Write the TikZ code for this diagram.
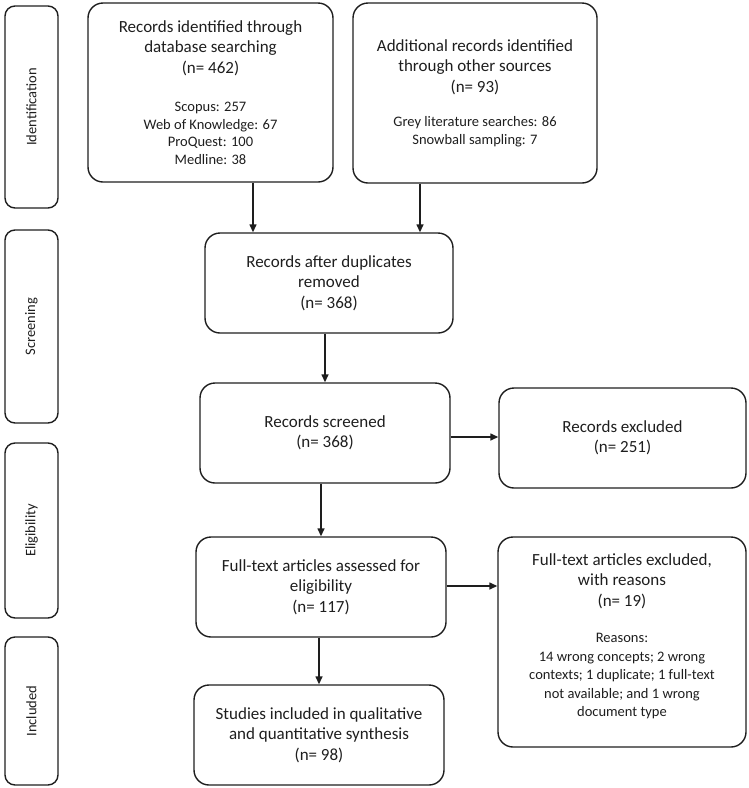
\documentclass[tikz,border=0pt]{standalone}
\usepackage{fontspec}
\setmainfont{Carlito}
\usetikzlibrary{arrows.meta,calc}
\definecolor{ink}{HTML}{1E1E1E}
\newcommand{\smallf}{\fontsize{14.5}{17.5}\selectfont}
\begin{document}
\begin{tikzpicture}[x=1pt,y=-1pt,
  box/.style={draw=ink, line width=1.4pt, rounded corners=15pt, align=center, text=ink,
    font=\fontsize{17}{20.5}\selectfont, inner sep=0pt},
  side/.style={draw=ink, line width=1.4pt, rounded corners=10pt, text=ink,
    inner sep=0pt, minimum width=53pt},
  sidelabel/.style={rotate=90, text=ink, font=\fontsize{14.5}{17}\selectfont},
  arr/.style={draw=ink, line width=1.4pt, -{Triangle[length=8pt,width=7pt]}}]
\useasboundingbox (0,0) rectangle (749,788);
% side boxes
\node[side, minimum height=202pt] (s1) at (31.5,107) {};
\node[sidelabel] at (s1.center) {Identification};
\node[side, minimum height=193pt] (s2) at (31.5,326.5) {};
\node[sidelabel] at (s2.center) {Screening};
\node[side, minimum height=175pt] (s3) at (31.5,530.5) {};
\node[sidelabel] at (s3.center) {Eligibility};
\node[side, minimum height=148pt] (s4) at (31.5,711) {};
\node[sidelabel] at (s4.center) {Included};
% main boxes
\node[box, minimum width=245pt, minimum height=179pt] (b1) at (210.5,92.5)
 {Records identified through\\ database searching\\ (n= 462)\\[18pt]
  {\smallf Scopus: 257}\\[-3pt] {\smallf Web of Knowledge: 67}\\[-3pt]
  {\smallf ProQuest: 100}\\[-3pt] {\smallf Medline: 38}};
\node[box, minimum width=244pt, minimum height=180pt] (b2) at (475,93)
 {Additional records identified\\ through other sources\\ (n= 93)\\[14pt]
  {\smallf Grey literature searches: 86}\\[-3pt] {\smallf Snowball sampling: 7}};
\node[box, minimum width=248pt, minimum height=100pt] (b3) at (329,283)
 {Records after duplicates\\ removed\\ (n= 368)};
\node[box, minimum width=250pt, minimum height=100pt] (b4) at (325,433)
 {Records screened\\ (n= 368)};
\node[box, minimum width=247pt, minimum height=100pt] (b5) at (622.5,438)
 {Records excluded\\ (n= 251)};
\node[box, minimum width=250pt, minimum height=100pt] (b6) at (321,587)
 {Full-text articles assessed for\\ eligibility\\ (n= 117)};
\node[box, minimum width=248pt, minimum height=210pt] (b7) at (622,642)
 {Full-text articles excluded,\\ with reasons\\ (n= 19)\\[16pt]
  {\smallf Reasons:}\\[-2pt] {\smallf 14 wrong concepts; 2 wrong}\\[-2pt]
  {\smallf contexts; 1 duplicate; 1 full-text}\\[-2pt]
  {\smallf not available; and 1 wrong}\\[-2pt] {\smallf document type}\\[-7pt]};
\node[box, minimum width=250pt, minimum height=100pt] (b8) at (319,735)
 {Studies included in qualitative\\ and quantitative synthesis\\ (n= 98)};
% connectors
\coordinate (xa) at (253,0);
\coordinate (xb) at (420,0);
\draw[arr] (b1.south -| xa) -- (b3.north -| xa);
\draw[arr] (b2.south -| xb) -- (b3.north -| xb);
\draw[arr] (b3.south -| b4.north) -- (b4.north);
\coordinate (ya) at (0,437);
\draw[arr] (b4.east |- ya) -- (b5.west |- ya);
\draw[arr] (b4.south -| b6.north) -- (b6.north);
\coordinate (yb) at (0,586);
\draw[arr] (b6.east |- yb) -- (b7.west |- yb);
\draw[arr] (b6.south -| b8.north) -- (b8.north);
\end{tikzpicture}
\end{document}
